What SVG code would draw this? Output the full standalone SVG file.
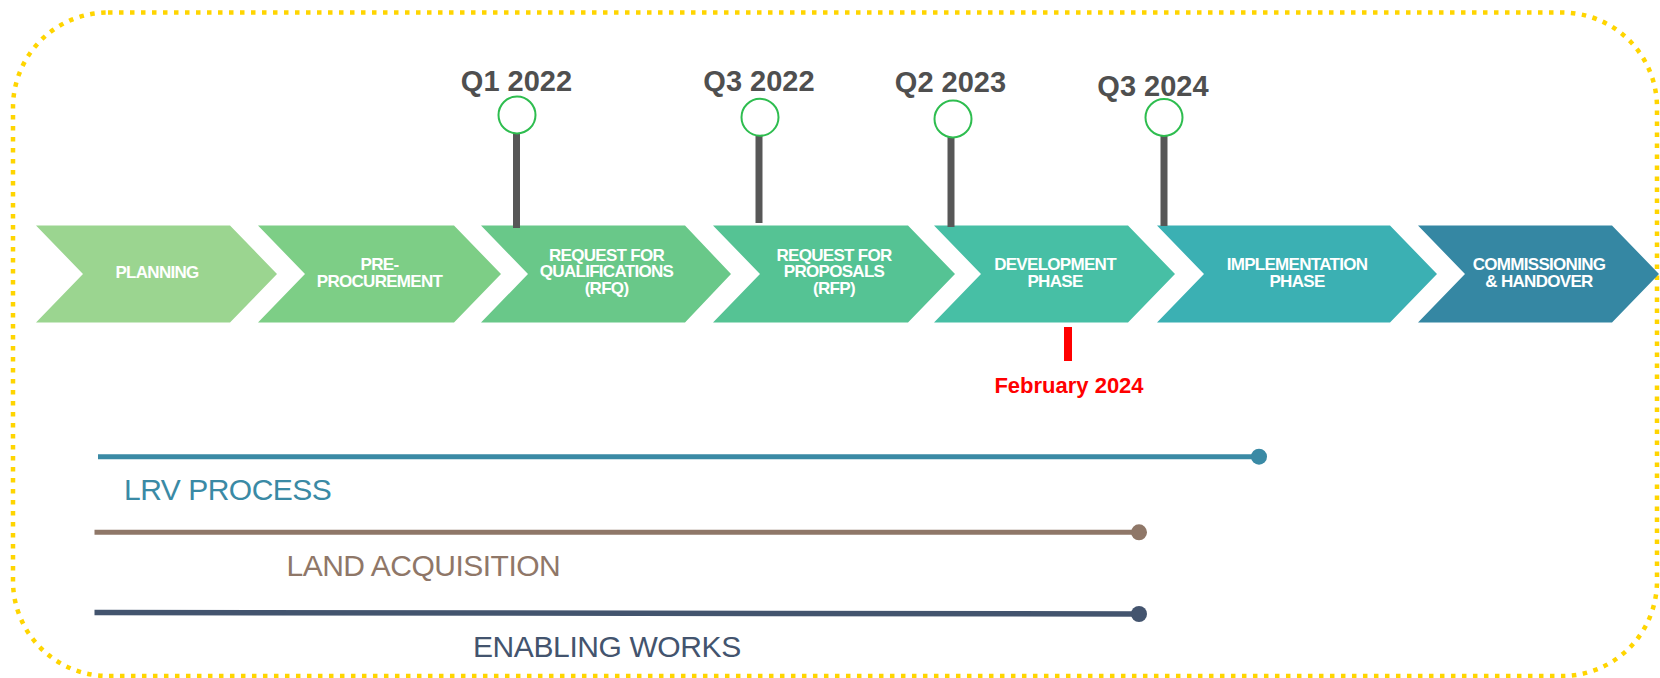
<svg xmlns="http://www.w3.org/2000/svg" width="1660" height="678" viewBox="0 0 1660 678">
<style>
.border{fill:none;stroke:#FFD500;stroke-width:4.5;stroke-dasharray:4.5 6.5}
.chev-t{font-family:"Liberation Sans",Arial,sans-serif;font-weight:bold;font-size:17px;fill:#FFFFFF;text-anchor:middle;letter-spacing:-0.7px}
.q{font-family:"Liberation Sans",Arial,sans-serif;font-weight:bold;font-size:29px;fill:#4F4F4F;text-anchor:middle}
.ring{fill:#FFFFFF;stroke:#2EBD4F;stroke-width:2}
.stem{stroke:#575757;stroke-width:7}
.track{font-family:"Liberation Sans",Arial,sans-serif;font-size:30px}
</style>
<rect class="border" x="13" y="12.5" width="1644" height="663.5" rx="95" ry="95"/>

<g id="chevrons">
<g id="planning"><polygon points="36,225.5 230,225.5 277,274 230,322.5 36,322.5 83,274" fill="#9BD590"/>
<text class="chev-t" x="157" y="278">PLANNING</text></g>
<g id="pre-procurement"><polygon points="258,225.5 454,225.5 501,274 454,322.5 258,322.5 305,274" fill="#7DCE86"/>
<text class="chev-t" x="379.5" y="270">PRE-</text><text class="chev-t" x="379.5" y="286.5">PROCUREMENT</text></g>
<g id="rfq"><polygon points="481,225.5 685,225.5 731,274 685,322.5 481,322.5 528,274" fill="#69C889"/>
<text class="chev-t" x="606.5" y="260.5">REQUEST FOR</text><text class="chev-t" x="606.5" y="277">QUALIFICATIONS</text><text class="chev-t" x="606.5" y="293.5">(RFQ)</text></g>
<g id="rfp"><polygon points="713,225.5 908,225.5 955,274 908,322.5 713,322.5 760,274" fill="#55C394"/>
<text class="chev-t" x="834" y="260.5">REQUEST FOR</text><text class="chev-t" x="834" y="277">PROPOSALS</text><text class="chev-t" x="834" y="293.5">(RFP)</text></g>
<g id="development"><polygon points="934,225.5 1128,225.5 1175,274 1128,322.5 934,322.5 981,274" fill="#47BFA5"/>
<text class="chev-t" x="1055" y="270">DEVELOPMENT</text><text class="chev-t" x="1055" y="286.5">PHASE</text></g>
<g id="implementation"><polygon points="1157,225.5 1390,225.5 1437,274 1390,322.5 1157,322.5 1204,274" fill="#3BB0B3"/>
<text class="chev-t" x="1297" y="270">IMPLEMENTATION</text><text class="chev-t" x="1297" y="286.5">PHASE</text></g>
<g id="commissioning"><polygon points="1418,225.5 1612,225.5 1659,274 1612,322.5 1418,322.5 1465,274" fill="#3587A3"/>
<text class="chev-t" x="1539" y="270">COMMISSIONING</text><text class="chev-t" x="1539" y="286.5">&amp; HANDOVER</text></g>
</g>

<g id="connectors">
<line class="stem" x1="516.5" y1="133" x2="516.5" y2="228"/>
<line class="stem" x1="759" y1="135.5" x2="759" y2="223"/>
<line class="stem" x1="951" y1="137" x2="951" y2="227"/>
<line class="stem" x1="1164" y1="136" x2="1164" y2="226"/>
<line x1="1068" y1="327" x2="1068" y2="361" stroke="#FF0000" stroke-width="8"/>
</g>

<g id="m-q1-2022"><circle class="ring" cx="517" cy="115" r="18.5"/><text class="q" x="516.5" y="90.7">Q1 2022</text></g>
<g id="m-q3-2022"><circle class="ring" cx="760" cy="117.3" r="18.5"/><text class="q" x="759" y="90.7">Q3 2022</text></g>
<g id="m-q2-2023"><circle class="ring" cx="953" cy="119" r="18.5"/><text class="q" x="950.5" y="91.7">Q2 2023</text></g>
<g id="m-q3-2024"><circle class="ring" cx="1164" cy="117.5" r="18.5"/><text class="q" x="1153" y="95.5">Q3 2024</text></g>

<g id="today"><text x="1069" y="392.7" font-family="Liberation Sans, Arial, sans-serif" font-weight="bold" font-size="22" fill="#FF0000" text-anchor="middle">February 2024</text></g>

<g id="lrv-process">
<line x1="98" y1="456.7" x2="1259" y2="456.7" stroke="#3A8AA5" stroke-width="5"/>
<circle cx="1259" cy="456.7" r="8" fill="#3A8AA5"/>
<text class="track" x="124" y="500" fill="#3A8AA5" letter-spacing="-0.5">LRV PROCESS</text>
</g>
<g id="land-acquisition">
<line x1="94.5" y1="532.3" x2="1139" y2="532.3" stroke="#8F7768" stroke-width="5"/>
<circle cx="1139" cy="532.3" r="8" fill="#8F7768"/>
<text class="track" x="286.5" y="575.7" fill="#8F7768" letter-spacing="-0.5">LAND ACQUISITION</text>
</g>
<g id="enabling-works">
<line x1="94.5" y1="612.5" x2="1139" y2="614" stroke="#43546E" stroke-width="5.5"/>
<circle cx="1139" cy="614" r="8" fill="#43546E"/>
<text class="track" x="473" y="656.7" fill="#43546E" letter-spacing="-0.4">ENABLING WORKS</text>
</g>
</svg>
